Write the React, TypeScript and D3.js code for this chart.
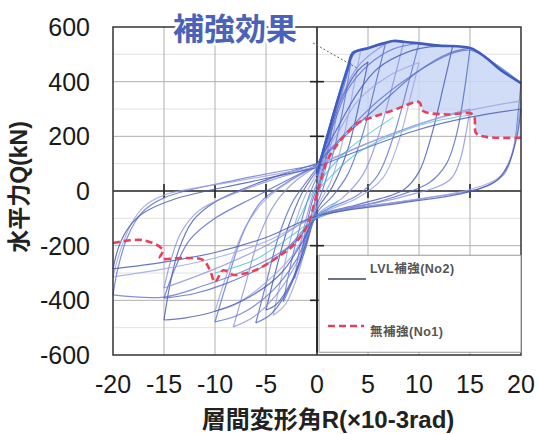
import React from "react";
import * as d3 from "d3";

// ---- data (R in 1e-3 rad, Q in kN) ----
const R_TICKS = [-20, -15, -10, -5, 0, 5, 10, 15, 20];
const Q_TICKS = [600, 400, 200, 0, -200, -400, -600];
const Q_MINOR = [500, 300, 100, -100, -300, -500];

// LVL reinforced (No2) hysteresis loops
const loopA = [[0,0],[0.7,100],[1.5,235],[1.1,150],[0.4,40],[0,-10],[-0.7,-110],[-1.5,-225],[-1.1,-140],[-0.4,-30],[0,10]];
const loopB = [[0,15],[1,160],[2.2,345],[1.7,230],[0.7,60],[0,-30],[-1,-170],[-2.2,-320],[-1.7,-210],[-0.7,-50],[0,30]];
const loopC = [[0,35],[1.2,200],[2.3,340],[3.3,470],[2.7,330],[1.6,140],[0.6,10],[0,-50],[-1.2,-200],[-2.3,-320],[-3.3,-405],[-2.7,-290],[-1.6,-120],[-0.6,0],[0,50]];
const loopD = [[0,55],[1,195],[2,325],[3,445],[3.6,505],[4.3,517],[3.6,380],[2.5,180],[1.3,30],[0,-60],[-1,-190],[-2,-320],[-3.1,-415],[-4.3,-455],[-3.5,-320],[-2.4,-150],[-1.2,-20],[0,65]];
const loopE = [[0,65],[1.2,215],[2.5,345],[4,440],[5,472],[4.2,330],[3,150],[1.5,15],[0,-70],[-1.2,-205],[-2.5,-330],[-4,-415],[-5,-435],[-4.1,-300],[-2.9,-140],[-1.5,-10],[0,75]];
const loopF = [[0,75],[1,205],[2,335],[3,445],[3.7,505],[5,523],[6.7,538],[5.8,400],[4.5,210],[3,60],[1.5,-20],[0,-80],[-1.3,-230],[-2.8,-360],[-4.5,-450],[-6,-483],[-5,-340],[-3.8,-170],[-2.4,-40],[-1,35],[0,85]];
const loopG = [[0,80],[1.2,220],[2.6,360],[4,455],[6,520],[7.5,549],[8.5,546],[7.5,400],[6,200],[4.5,60],[2.5,-25],[0,-88],[-1.8,-250],[-4,-380],[-6.2,-460],[-8.2,-497],[-7,-340],[-5.6,-160],[-4,-40],[-2,40],[0,90]];
const loopH = [[0,88],[1.5,230],[3,370],[5,460],[7.5,520],[10,540],[9,400],[7.5,200],[6,60],[4,-15],[0,-92],[-2,-250],[-4.5,-370],[-7.5,-450],[-10,-479],[-8.8,-330],[-7.2,-150],[-5.5,-40],[-3,30],[0,92]];
const loopI = [[0,92],[2,210],[4,330],[7,420],[10,470],[9.2,350],[8,180],[6.5,50],[4,-25],[0,-95],[-2.5,-240],[-5.5,-350],[-8,-415],[-10,-440],[-8.7,-290],[-7,-130],[-5,-30],[-2.5,40],[0,95]];
const loopJ = [[0,95],[2,230],[4,360],[6,450],[9,510],[11,527],[13.3,530],[12.5,400],[11.2,200],[10,70],[8.5,5],[4,-50],[0,-95],[-1.5,-190],[-3.5,-300],[-6.5,-385],[-10,-440],[-13,-465],[-15,-472],[-14.4,-340],[-13.6,-220],[-12.2,-110],[-10,-40],[-5,40],[0,100]];
const loopK = [[0,100],[3,210],[6,310],[10,440],[13,505],[15,523],[14.5,380],[13.7,210],[12.7,100],[11,30],[6,-40],[0,-95],[-2,-180],[-5,-270],[-9,-340],[-12,-375],[-15,-392],[-14,-290],[-12.5,-180],[-10,-100],[-6,-20],[0,95]];
const loopL = [[0,92],[5,175],[10,245],[13,280],[15,300],[14.6,210],[14,110],[13,40],[8,-25],[0,-90],[-5,-200],[-10,-285],[-15,-355],[-14.3,-250],[-13.3,-150],[-11.5,-70],[-6,20],[0,90]];
const loopM = [[0,100],[3,220],[6,330],[10,440],[13,500],[15,515],[17.5,465],[20,395],[19.7,280],[19.3,160],[18.3,60],[16,10],[10,-30],[0,-100],[-3,-210],[-7,-290],[-11,-345],[-15,-388],[-20,-380],[-19.5,-280],[-18.6,-170],[-17.2,-80],[-15,-25],[-8,40],[0,95]];
const loopN = [[0,95],[5,175],[10,245],[15,295],[20,330],[19.6,225],[19,125],[18,55],[15,5],[8,-40],[0,-95],[-5,-185],[-10,-245],[-15,-285],[-20,-314],[-19.3,-220],[-18.2,-120],[-17,-58],[-15,-15],[-8,35],[0,88]];
const loopO = [[0,88],[5,160],[10,225],[15,270],[20,300],[19.6,200],[18.8,100],[17.5,35],[14.7,-5],[8,-45],[0,-92],[-5,-170],[-10,-225],[-15,-260],[-20,-285],[-19.4,-200],[-18.4,-130],[-17,-80],[-14,-30],[-7,30],[0,85]];
const LOOPS = [loopA, loopB, loopC, loopD, loopE, loopF, loopG, loopH, loopI, loopJ, loopK, loopL, loopM, loopN, loopO];

// No1 (unreinforced) faint loops
const teal1 = [[-2,-120],[0,20],[3,150],[7.5,270]];
const teal2 = [[0,0],[4,140],[10,240],[15.3,280]];
const teal3 = [[2,-40],[-2,-150],[-6,-250],[-10,-300]];
const TEAL = [teal1, teal2, teal3];

// envelopes
const blueEnvelope = [[0,60],[1,200],[2,330],[3,450],[3.5,505],[4.2,516],[5,522],[6,535],[7.5,549],[8.5,546],[10,540],[12,532],[15,523],[16.5,490],[18,443],[20,395]];
const redEnvelope = [[-20,-190],[-17,-180],[-15.1,-216],[-15.4,-245],[-13.1,-245],[-11.2,-252],[-10.5,-289],[-10,-333],[-9.2,-290],[-8.2,-307],[-6.9,-300],[-5.6,-282],[-3.6,-235],[-2.5,-205],[-1,-130],[0,-10],[1,110],[2,170],[3,215],[4,249],[5.5,271],[7.5,296],[8.8,315],[9.8,327],[10.1,322],[10.4,293],[12.7,280],[15.3,280],[15.6,212],[16.6,198],[20,195]];

const LOOP_COLORS = ["#5266c8", "#8a90dc", "#6274d0", "#9ca2e4", "#4657b4"];
const FONT = "'Liberation Sans', Arial, 'Noto Sans CJK JP', sans-serif";

// split a loop into branches at its tips (local maxima of |R|) so tips stay sharp
function branches(loop: number[][]): number[][][] {
  const out: number[][][] = [];
  let cur: number[][] = [loop[0]];
  for (let i = 1; i < loop.length; i++) {
    cur.push(loop[i]);
    const a = Math.abs(loop[i][0]);
    const prev = Math.abs(loop[i - 1][0]);
    const next = i + 1 < loop.length ? Math.abs(loop[i + 1][0]) : -1;
    if (i < loop.length - 1 && a > 0.5 && a >= prev && a >= next) {
      out.push(cur);
      cur = [loop[i]];
    }
  }
  if (cur.length > 1) out.push(cur);
  return out;
}

export default function App() {
  const W = 539, H = 434;
  const x = d3.scaleLinear().domain([-20, 20]).range([113, 521]);
  const y = d3.scaleLinear().domain([-600, 600]).range([355, 27]);

  const smooth = d3.line<number[]>().x(d => x(d[0])).y(d => y(d[1])).curve(d3.curveCatmullRom.alpha(0.5));
  const straight = d3.line<number[]>().x(d => x(d[0])).y(d => y(d[1]));

  const upper = blueEnvelope.filter(p => p[0] >= 1);
  const lower = redEnvelope.filter(p => p[0] >= 1).slice().reverse();
  const fillPath = straight([...upper, ...lower]) + "Z";

  const legX0 = x(0.2), legX1 = x(20), legY0 = y(-235), legY1 = y(-590);

  return (
    <svg width={W} height={H} style={{ position: "absolute", left: 0, top: 0, background: "#fff" }} fontFamily={FONT}>
      <rect x={0} y={0} width={W} height={H} fill="#fff" />
      {Q_MINOR.map(q => (
        <line key={"qm" + q} x1={x(-20)} x2={x(20)} y1={y(q)} y2={y(q)} stroke="#e2e2e2" strokeWidth={1} />
      ))}
      {Q_TICKS.filter(q => q !== 0 && Math.abs(q) !== 600).map(q => (
        <line key={"qg" + q} x1={x(-20)} x2={x(20)} y1={y(q)} y2={y(q)} stroke="#b0b0b0" strokeWidth={1} />
      ))}
      {R_TICKS.filter(r => r !== 0 && Math.abs(r) !== 20).map(r => (
        <line key={"rg" + r} x1={x(r)} x2={x(r)} y1={y(600)} y2={y(-600)} stroke="#b0b0b0" strokeWidth={1} />
      ))}
      <line x1={x(-20)} x2={x(20)} y1={y(0)} y2={y(0)} stroke="#222" strokeWidth={1.6} />
      <line x1={x(0)} x2={x(0)} y1={y(600)} y2={y(-600)} stroke="#222" strokeWidth={1.6} />
      {Q_TICKS.filter(q => q !== 0 && Math.abs(q) !== 600).map(q => (
        <line key={"qt" + q} x1={x(0) - 7} x2={x(0) + 7} y1={y(q)} y2={y(q)} stroke="#222" strokeWidth={1.6} />
      ))}
      {R_TICKS.filter(r => r !== 0 && Math.abs(r) !== 20).map(r => (
        <line key={"rt" + r} x1={x(r)} x2={x(r)} y1={y(0) - 7} y2={y(0) + 7} stroke="#222" strokeWidth={1.6} />
      ))}
      <path d={fillPath} fill="#c9d7f6" fillOpacity={0.85} stroke="none" />
      {LOOPS.map((lp, i) => (
        <g key={"lp" + i}>
          {branches(lp).map((b, j) => (
            <path key={j} d={smooth(b) || ""} fill="none" stroke={LOOP_COLORS[i % LOOP_COLORS.length]} strokeWidth={1.2} strokeOpacity={0.8} />
          ))}
        </g>
      ))}
      {TEAL.map((lp, i) => (
        <path key={"tl" + i} d={smooth(lp) || ""} fill="none" stroke="#38b8d8" strokeWidth={1.1} strokeOpacity={0.7} />
      ))}
      <path d={smooth(redEnvelope) || ""} fill="none" stroke="#e8405c" strokeWidth={2.6} strokeDasharray="7,4" />
      <path d={smooth(blueEnvelope) || ""} fill="none" stroke="#3f5cc0" strokeWidth={2.6} />
      <rect x={x(-20)} y={y(600)} width={x(20) - x(-20)} height={y(-600) - y(600)} fill="none" stroke="#333" strokeWidth={1.5} />
      <rect x={legX0} y={legY0} width={legX1 - legX0} height={legY1 - legY0} fill="#fff" stroke="#999" strokeWidth={1} />
      <line x1={x(0)} x2={x(0)} y1={legY0} y2={legY1} stroke="#222" strokeWidth={1.6} />
      <line x1={328} x2={366} y1={279} y2={279} stroke="#3d4660" strokeWidth={1.4} />
      <text x={370} y={273} fontSize={12.5} fontWeight="bold" fill="#555" letterSpacing={0.5}>LVL補強(No2)</text>
      <line x1={328} x2={364} y1={326} y2={326} stroke="#e8405c" strokeWidth={2.6} strokeDasharray="7,4" />
      <text x={370} y={336} fontSize={12.5} fontWeight="bold" fill="#555" letterSpacing={0.5}>無補強(No1)</text>
      <line x1={313} y1={43} x2={357} y2={68} stroke="#666" strokeWidth={1} strokeDasharray="2,2" />
      <text x={235} y={40} textAnchor="middle" fontSize={31} fontWeight="bold" fill="#4a62b8" stroke="#fff" strokeWidth={5} style={{ paintOrder: "stroke" }}>補強効果</text>
      {Q_TICKS.map(q => (
        <text key={"ql" + q} x={90} y={y(q)} dy="0.36em" textAnchor="end" fontSize={25} fill="#1a1a1a">{q}</text>
      ))}
      {R_TICKS.map(r => (
        <text key={"rl" + r} x={x(r)} y={393} textAnchor="middle" fontSize={25} fill="#1a1a1a">{r}</text>
      ))}
      <text x={328} y={428} textAnchor="middle" fontSize={24} fontWeight="bold" fill="#222">層間変形角R(×10-3rad)</text>
      <text transform={`translate(27,187) rotate(-90)`} textAnchor="middle" fontSize={23} fontWeight="bold" fill="#222">水平力Q(kN)</text>
    </svg>
  );
}
